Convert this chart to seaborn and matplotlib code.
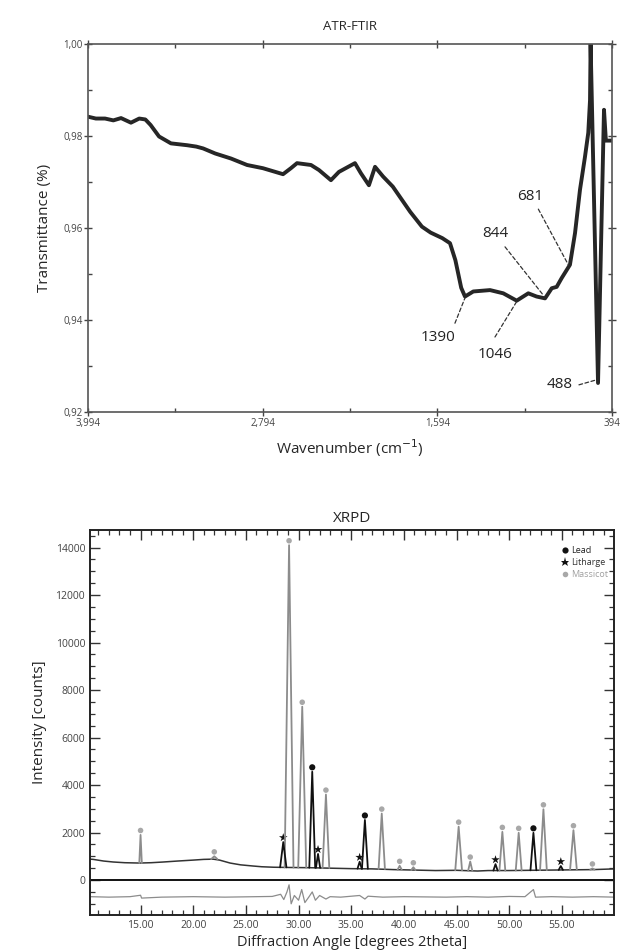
import numpy as np
import pandas as pd
import matplotlib
matplotlib.use("Agg")
import matplotlib.pyplot as plt
from matplotlib.ticker import FuncFormatter, MultipleLocator, FixedLocator
from matplotlib.transforms import ScaledTranslation
import seaborn as sns

# ---------------- ATR-FTIR data ----------------
wavenumber = [3994, 3940, 3877, 3820, 3767, 3699, 3642, 3600, 3564, 3506, 3424, 3313,
              3250, 3203, 3120, 3011, 2901, 2792, 2654, 2600, 2558, 2462, 2407, 2325,
              2270, 2160, 2119, 2064, 2022, 1967, 1900, 1852, 1780, 1700, 1640, 1560,
              1507, 1470, 1430, 1404, 1347, 1232, 1141, 1049, 969, 912, 854, 808, 774,
              740, 683, 648, 614, 580, 557, 545, 541, 490, 449, 436, 394]
transmittance = [0.9842, 0.9838, 0.9838, 0.9834, 0.9839, 0.9829, 0.9838, 0.9836, 0.9824,
                 0.9799, 0.9784, 0.9780, 0.9777, 0.9773, 0.9762, 0.9751, 0.9737, 0.9730,
                 0.9717, 0.9730, 0.9741, 0.9737, 0.9726, 0.9704, 0.9722, 0.9741, 0.9719,
                 0.9693, 0.9733, 0.9712, 0.9690, 0.9668, 0.9635, 0.9603, 0.9590, 0.9578,
                 0.9567, 0.9530, 0.9470, 0.9451, 0.9462, 0.9465, 0.9458, 0.9442, 0.9458,
                 0.9451, 0.9447, 0.9469, 0.9472, 0.9491, 0.9520, 0.9589, 0.9683, 0.9754,
                 0.9807, 0.9878, 1.0000, 0.9263, 0.9857, 0.9790, 0.9790]

# band labels with leader lines
band_labels = ["1390", "1046", "844", "681", "488"]
band_wn = [1404, 1049, 866, 694, 499]
band_t = [0.9448, 0.9440, 0.9454, 0.9520, 0.9270]
leader_wn = [1473, 1198, 1129, 900, 621]
leader_t = [0.9393, 0.9363, 0.9559, 0.9641, 0.9259]
text_wn = [1590, 1198, 1198, 953, 751]
text_t = [0.9361, 0.9324, 0.9589, 0.9668, 0.9259]

# ---------------- XRPD data ----------------
bg_angle = [10.2, 10.5, 11.5, 12.4, 13.5, 14.9, 16.0, 17.1, 18.5, 20.0, 21.0, 21.9, 22.5,
            23.5, 24.5, 25.7, 26.5, 27.6, 29.0, 31.0, 33.0, 35.0, 37.0, 39.0, 41.0, 43.0,
            45.0, 47.0, 48.0, 50.0, 52.0, 54.0, 56.0, 58.0, 60.0]
bg_counts = [880, 870, 800, 760, 730, 716, 730, 758, 800, 840, 870, 880, 840, 716, 640,
             590, 560, 540, 530, 520, 500, 480, 470, 440, 420, 400, 410, 380, 400, 400,
             410, 420, 430, 440, 470]

peak_angle = [15.0, 22.0, 29.1, 30.35, 32.6, 37.9, 39.6, 40.9, 45.2, 46.3, 49.35, 50.9,
              53.25, 56.1, 57.9,
              31.3, 36.3, 52.3,
              28.55, 31.85, 35.8, 48.7, 54.9]
peak_height = [1900, 1000, 14100, 7300, 3600, 2800, 600, 540, 2250, 780, 2030, 1990,
               2980, 2100, 490,
               4560, 2530, 1990,
               1600, 1100, 770, 670, 590]
peak_base = [716, 880, 530, 525, 505, 465, 435, 420, 410, 390, 395, 400,
             415, 430, 440,
             520, 475, 410,
             535, 515, 480, 400, 425]
peak_halfwidth = [0.12, 0.3, 0.42, 0.38, 0.32, 0.3, 0.2, 0.2, 0.32, 0.2, 0.28, 0.28,
                  0.32, 0.32, 0.2,
                  0.28, 0.28, 0.28,
                  0.3, 0.2, 0.2, 0.2, 0.2]
peak_phase = ["Massicot"] * 15 + ["Lead"] * 3 + ["Litharge"] * 5

res_angle = [10.2, 12, 14, 15.0, 15.1, 17, 20, 23, 26, 27.5, 28.3, 28.6, 28.9, 29.1,
             29.3, 29.6, 30.0, 30.3, 30.6, 31.0, 31.3, 31.6, 32.0, 32.6, 33, 34, 35.8,
             36.3, 36.6, 38, 40, 44, 46, 48, 50, 51.5, 52.3, 52.5, 54, 56, 58, 60]
res_counts = [-700, -720, -700, -640, -760, -720, -700, -720, -700, -690, -600, -820,
              -500, -200, -1000, -650, -850, -400, -950, -700, -500, -850, -650, -800,
              -700, -720, -650, -800, -680, -720, -700, -720, -700, -720, -690, -700,
              -400, -720, -700, -720, -700, -720]

phase_order = ["Lead", "Litharge", "Massicot"]

# ---------------- figure ----------------
sns.set_style("ticks")
plt.rcParams["font.family"] = ["Open Sans", "DejaVu Sans"]

fig = plt.figure(figsize=(6.25, 9.51), dpi=100)
ax1 = fig.add_axes([0.1408, 0.5668, 0.8384, 0.3869])
ax2 = fig.add_axes([0.144, 0.0379, 0.8384, 0.4048])

# FTIR
ftir = pd.DataFrame({"wn": wavenumber, "T": transmittance})
sns.lineplot(data=ftir, x="wn", y="T", ax=ax1, color="#262626", lw=2.8,
             sort=False, estimator=None)
ax1.set_xlim(3994, 394)
ax1.set_ylim(0.92, 1.00)
ax1.xaxis.set_major_locator(FixedLocator([3994, 2794, 1594, 394]))
ax1.xaxis.set_minor_locator(FixedLocator([3394, 2194, 994]))
ax1.yaxis.set_major_locator(MultipleLocator(0.02))
ax1.yaxis.set_minor_locator(MultipleLocator(0.01))
ax1.xaxis.set_major_formatter(FuncFormatter(lambda v, p: f"{int(round(v)):,}"))
ax1.yaxis.set_major_formatter(FuncFormatter(lambda v, p: f"{v:.2f}".replace(".", ",")))
ax1.tick_params(which="major", direction="inout", length=6, width=1, top=True,
                right=True, labelsize=7, colors="#444444", pad=1)
ax1.tick_params(which="minor", direction="in", length=3, width=1, top=True, right=True,
                colors="#444444")
for s in ax1.spines.values():
    s.set_color("#555555")
    s.set_linewidth(1.2)
ax1.set_title("ATR-FTIR", fontsize=9.5, pad=10)
ax1.set_xlabel("Wavenumber (cm$^{-1}$)", fontsize=11, labelpad=6)
ax1.set_ylabel("Transmittance (%)", fontsize=11, labelpad=8)

for lab, bw, bt, lw_, lt, tw, tt in zip(band_labels, band_wn, band_t, leader_wn,
                                        leader_t, text_wn, text_t):
    ax1.annotate("", xy=(bw, bt), xytext=(lw_, lt),
                 arrowprops=dict(arrowstyle="-", linestyle=(0, (3, 2)), lw=0.9,
                                 color="#333333", shrinkA=0, shrinkB=0))
    ax1.text(tw, tt, lab, fontsize=11, ha="center", va="center", color="#222222")

# XRPD
bg = pd.DataFrame({"angle": bg_angle, "counts": bg_counts})
sns.lineplot(data=bg, x="angle", y="counts", ax=ax2, color="#333333", lw=1.1,
             sort=False, estimator=None)

rows = []
for i, (a, h, b, w, ph) in enumerate(zip(peak_angle, peak_height, peak_base,
                                         peak_halfwidth, peak_phase)):
    rows += [(i, a - w, b, ph), (i, a, h, ph), (i, a + w, b, ph)]
pk = pd.DataFrame(rows, columns=["peak", "angle", "counts", "phase"])
line_pal = {"Lead": "#111111", "Litharge": "#111111", "Massicot": "#8c8c8c"}
sns.lineplot(data=pk, x="angle", y="counts", hue="phase", units="peak",
             estimator=None, sort=False, palette=line_pal, lw=1.3, ax=ax2,
             legend=False)

res = pd.DataFrame({"angle": res_angle, "counts": res_counts})
sns.lineplot(data=res, x="angle", y="counts", ax=ax2, color="#8c8c8c", lw=0.9,
             sort=False, estimator=None)
ax2.axhline(0, color="#111111", lw=1.4)

mk = pd.DataFrame({"angle": peak_angle, "counts": peak_height, "phase": peak_phase})
off = ax2.transData + ScaledTranslation(0, 3.2 / 72, fig.dpi_scale_trans)
mk_pal = {"Lead": "#111111", "Litharge": "#111111", "Massicot": "#a8a8a8"}
mk_shapes = {"Lead": "o", "Litharge": "*", "Massicot": "o"}
mk_sizes = {"Lead": 20, "Litharge": 42, "Massicot": 16}
sns.scatterplot(data=mk, x="angle", y="counts", hue="phase", style="phase",
                size="phase", sizes=mk_sizes,
                hue_order=phase_order, style_order=phase_order, size_order=phase_order,
                palette=mk_pal, markers=mk_shapes, linewidth=0, ax=ax2, transform=off)

ax2.set_xlim(10.2, 59.95)
ax2.set_ylim(-1470, 14740)
ax2.xaxis.set_major_locator(MultipleLocator(5))
ax2.xaxis.set_minor_locator(MultipleLocator(1))
ax2.yaxis.set_major_locator(FixedLocator([0, 2000, 4000, 6000, 8000, 10000, 12000, 14000]))
ax2.yaxis.set_minor_locator(MultipleLocator(500))
ax2.xaxis.set_major_formatter(FuncFormatter(lambda v, p: f"{v:.2f}"))
ax2.yaxis.set_major_formatter(FuncFormatter(lambda v, p: f"{int(v)}"))
ax2.tick_params(which="major", direction="in", length=7, width=1, top=True, right=True,
                labelsize=7.5, colors="#333333", labelcolor="#444444")
ax2.tick_params(which="minor", direction="in", length=3.5, width=0.9, top=True,
                right=True, colors="#333333")
for s in ax2.spines.values():
    s.set_color("#222222")
    s.set_linewidth(1.4)
ax2.set_title("XRPD", fontsize=11, pad=6)
ax2.set_xlabel("Diffraction Angle [degrees 2theta]", fontsize=10.5, labelpad=3)
ax2.set_ylabel("Intensity [counts]", fontsize=11, labelpad=6)

leg = ax2.legend(loc="upper right", bbox_to_anchor=(1.0, 0.975), frameon=False,
                 fontsize=6.5, handletextpad=0.1, labelspacing=0.35, borderaxespad=0.3,
                 handlelength=1.0, title=None)
for t, c in zip(leg.get_texts(), ["#222222", "#333333", "#a0a0a0"]):
    t.set_color(c)

fig.savefig("out.png", dpi=100)
